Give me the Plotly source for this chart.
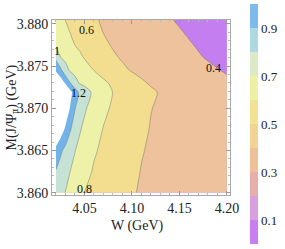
import plotly.graph_objects as go

# ---- data ----
W_GEV = [4.02, 4.025, 4.03, 4.035, 4.04, 4.045, 4.05, 4.06, 4.07, 4.08,
         4.09, 4.10, 4.11, 4.12, 4.13, 4.14, 4.16, 4.18, 4.20]
M_GEV = [3.8600, 3.8625, 3.8650, 3.8675, 3.8700, 3.8719,
         3.8730, 3.8745, 3.8760, 3.8775, 3.8790, 3.8805]

Z_3860 = [1.12, 1.057, 0.995, 0.945, 0.895, 0.845, 0.798, 0.761, 0.723, 0.686, 0.648, 0.611, 0.587, 0.569, 0.551, 0.533, 0.497, 0.461, 0.425]
Z_38625 = [1.187, 1.124, 1.062, 0.999, 0.951, 0.903, 0.855, 0.783, 0.745, 0.706, 0.667, 0.629, 0.595, 0.577, 0.559, 0.541, 0.505, 0.469, 0.433]
Z_3865 = [1.333, 1.228, 1.147, 1.076, 1.005, 0.957, 0.910, 0.818, 0.768, 0.727, 0.687, 0.647, 0.607, 0.585, 0.567, 0.549, 0.513, 0.477, 0.441]
Z_38675 = [1.66, 1.51, 1.363, 1.214, 1.112, 1.015, 0.962, 0.873, 0.792, 0.751, 0.709, 0.668, 0.626, 0.593, 0.575, 0.557, 0.521, 0.485, 0.449]
Z_3870 = [1.90, 1.735, 1.559, 1.383, 1.207, 1.113, 1.023, 0.924, 0.837, 0.776, 0.732, 0.689, 0.646, 0.603, 0.583, 0.565, 0.529, 0.493, 0.457]
Z_38719 = [1.95, 1.805, 1.634, 1.463, 1.291, 1.163, 1.084, 0.961, 0.877, 0.796, 0.752, 0.707, 0.663, 0.619, 0.590, 0.572, 0.535, 0.499, 0.463]
Z_3873 = [1.65, 1.533, 1.369, 1.205, 1.069, 0.985, 0.953, 0.891, 0.828, 0.772, 0.720, 0.668, 0.617, 0.587, 0.567, 0.547, 0.507, 0.467, 0.427]
Z_38745 = [1.368, 1.239, 1.071, 0.978, 0.942, 0.906, 0.870, 0.798, 0.741, 0.684, 0.627, 0.589, 0.569, 0.549, 0.529, 0.508, 0.468, 0.427, 0.386]
Z_3876 = [1.155, 1.002, 0.958, 0.915, 0.873, 0.830, 0.792, 0.735, 0.677, 0.620, 0.586, 0.564, 0.543, 0.521, 0.499, 0.477, 0.434, 0.390, 0.344]
Z_38775 = [0.981, 0.935, 0.889, 0.844, 0.799, 0.770, 0.741, 0.684, 0.626, 0.588, 0.566, 0.544, 0.522, 0.500, 0.478, 0.456, 0.411, 0.366, 0.321]
Z_3879 = [0.922, 0.880, 0.838, 0.797, 0.768, 0.739, 0.709, 0.651, 0.597, 0.573, 0.550, 0.527, 0.503, 0.480, 0.456, 0.433, 0.387, 0.341, 0.295]
Z_38805 = [0.872, 0.834, 0.797, 0.767, 0.737, 0.707, 0.677, 0.617, 0.582, 0.557, 0.532, 0.507, 0.483, 0.458, 0.433, 0.408, 0.362, 0.316, 0.270]

LEVEL_START, LEVEL_END, LEVEL_STEP = 0.4, 1.2, 0.2
WHITE_ABOVE = 1.4

REGION_COLORS = ["#c47ef0", "#eec29c", "#f3de90", "#eef1a8", "#c5e2d5", "#72b4ea"]
BAR_COLORS = ["#c880f0", "#d8a0dc", "#e6afac", "#eec19b", "#f1d494",
              "#f2e291", "#eef0a5", "#deeac6", "#b0d8e1", "#7ebaec"]
BAR_TICKS = [0.1, 0.3, 0.5, 0.7, 0.9]

X_TICKS = [4.05, 4.10, 4.15, 4.20]
Y_TICKS = [3.860, 3.865, 3.870, 3.875, 3.880]

LABEL_TEXT = ["0.6", "1", "1.2", "0.8", "0.4"]
LABEL_W = [4.0526, 4.0211, 4.0432, 4.0505, 4.1853]
LABEL_M = [3.87928, 3.87679, 3.87187, 3.86044, 3.87478]

# ---- figure ----
Z = [Z_3860, Z_38625, Z_3865, Z_38675, Z_3870, Z_38719,
     Z_3873, Z_38745, Z_3876, Z_38775, Z_3879, Z_38805]

SERIF = "Liberation Serif, Times New Roman, serif"
n = len(REGION_COLORS)
region_scale = [[i / (n - 1), c] for i, c in enumerate(REGION_COLORS)]

bar_scale = []
for i, c in enumerate(BAR_COLORS):
    bar_scale.append([i / len(BAR_COLORS), c])
    bar_scale.append([(i + 1) / len(BAR_COLORS), c])

L, R, T, B = 52, 55, 20, 54
PW, PH = 285 - L - R, 249 - T - B

fig = go.Figure()
fig.add_trace(go.Contour(
    x=W_GEV, y=M_GEV, z=Z,
    contours=dict(start=LEVEL_START, end=LEVEL_END, size=LEVEL_STEP,
                  coloring="fill", showlabels=False),
    colorscale=region_scale, showscale=False,
    line=dict(color="rgba(105,105,105,0.55)", width=0.8, smoothing=0.8),
    hoverinfo="skip"))
fig.add_trace(go.Contour(
    x=W_GEV, y=M_GEV, z=Z,
    contours=dict(type="constraint", operation="<", value=WHITE_ABOVE),
    fillcolor="white", line=dict(width=0, smoothing=0.5),
    showscale=False, hoverinfo="skip"))
fig.add_trace(go.Scatter(
    x=[None], y=[None], mode="markers", showlegend=False, hoverinfo="skip",
    marker=dict(color=[0.5], cmin=0, cmax=1, colorscale=bar_scale, showscale=True,
                colorbar=dict(thickness=8, thicknessmode="pixels", len=240, lenmode="pixels",
                              x=(250 - L) / PW, xanchor="left",
                              y=(249 - B - 124) / PH, yanchor="middle",
                              xpad=0, ypad=0, outlinewidth=0,
                              tickvals=BAR_TICKS, ticktext=[f"{v:.1f}" for v in BAR_TICKS],
                              ticks="", tickfont=dict(family=SERIF, size=13, color="#222")))))

axis_common = dict(ticks="inside", ticklen=4, tickcolor="#999", tickwidth=1,
                   showline=True, linecolor="#aaa", linewidth=1, mirror="allticks",
                   showgrid=False, zeroline=False,
                   tickfont=dict(family=SERIF, size=14, color="#222"))
fig.update_xaxes(range=[4.0158, 4.2032], tickvals=X_TICKS,
                 ticktext=[f"{v:.2f}" for v in X_TICKS],
                 minor=dict(ticks="inside", ticklen=2, tickcolor="#bbb", dtick=0.01, tick0=4.0),
                 **axis_common)
fig.update_yaxes(range=[3.85973, 3.88046], tickvals=Y_TICKS,
                 ticktext=[f"{v:.3f}" for v in Y_TICKS],
                 minor=dict(ticks="inside", ticklen=2, tickcolor="#bbb", dtick=0.001, tick0=3.86),
                 **axis_common)

for t, xv, yv in zip(LABEL_TEXT, LABEL_W, LABEL_M):
    fig.add_annotation(x=xv, y=yv, text=t, showarrow=False,
                       font=dict(family=SERIF, size=12, color="#111"))

fig.add_annotation(xref="paper", yref="paper", x=(137 - L) / PW, y=(249 - B - 226) / PH,
                   text="W (GeV)", showarrow=False, yanchor="middle",
                   font=dict(family=SERIF, size=14, color="#222"))
fig.add_annotation(xref="paper", yref="paper", x=(12 - L) / PW, y=0.5,
                   text="M(J/Ψ<sub>π</sub>) (GeV)", textangle=-90,
                   showarrow=False, xanchor="center",
                   font=dict(family=SERIF, size=14, color="#222"))

fig.update_layout(width=285, height=249, margin=dict(l=L, r=R, t=T, b=B, autoexpand=False),
                  plot_bgcolor="white", paper_bgcolor="white", showlegend=False)
fig.write_html("out.html", config={"displayModeBar": False},
               post_script="document.body.style.margin='0px';document.body.style.overflow='hidden';")
